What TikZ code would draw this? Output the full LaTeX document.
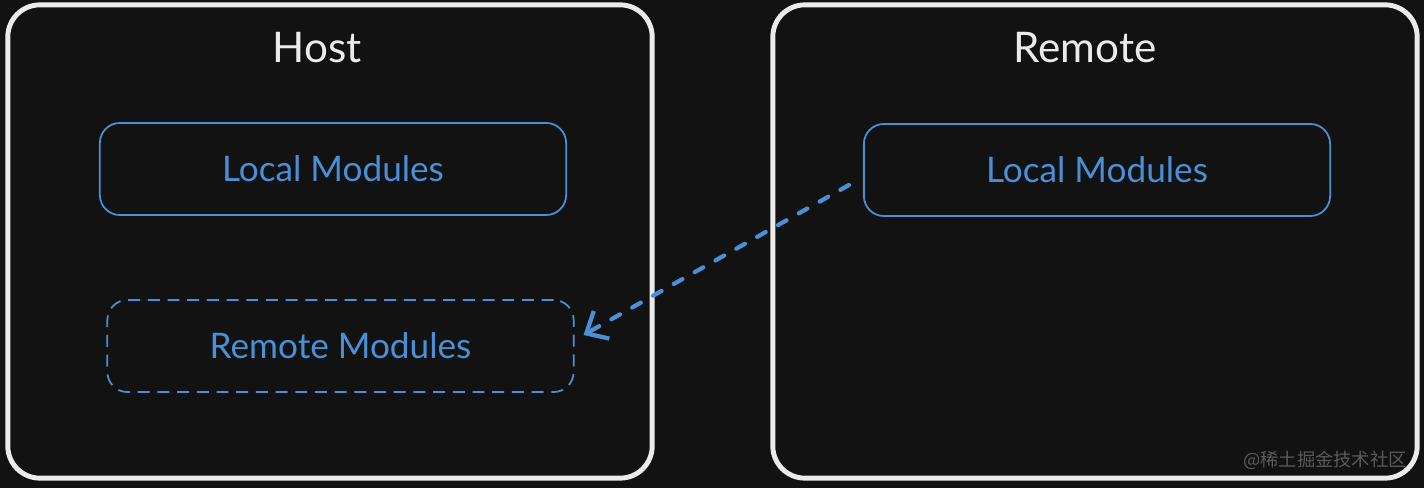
\documentclass[tikz,border=0pt]{standalone}
\usepackage{fontspec}
\setmainfont{Lato}
\newfontfamily\cjk{Noto Sans CJK SC}
\usetikzlibrary{arrows.meta}
\definecolor{bgdark}{RGB}{18,18,18}
\definecolor{edgewhite}{RGB}{235,235,235}
\definecolor{modblue}{RGB}{74,144,217}
\definecolor{markgray}{RGB}{90,90,90}
\begin{document}
\begin{tikzpicture}[x=0.01cm, y=-0.01cm,
		sidebox/.style={draw=edgewhite, line width=1.4pt, rounded corners=0.32cm, minimum width=6.44cm, minimum height=4.73cm},
		sidetitle/.style={text=edgewhite, font=\fontsize{12}{14}\selectfont},
		modbox/.style={draw=modblue, line width=0.5pt, rounded corners=0.2cm, minimum width=4.66cm, minimum height=0.92cm, text=modblue, font=\fontsize{10}{12}\selectfont},
		linkarrow/.style={draw=modblue, line width=1.2pt, dash pattern=on 2.8pt off 4pt, line cap=round, -{Straight Barb[length=5pt, width=9pt, line width=1.2pt]}}]
			\fill[bgdark] (0,0) rectangle (1424,488);
			% two machines
			\node[sidebox] (host) at (330, 241.5) {};
			\node[sidebox] (remote) at (1095, 241.5) {};
			\node[sidetitle] (hosttitle) at (317, 48) {Host};
			\node[sidetitle] (remotetitle) at (1085, 48) {Remote};
			% modules
			\node[modbox] (hostlocal) at (333, 169) {Local Modules};
			\node[modbox, dash pattern=on 3.4pt off 2.2pt] (remmods) at (340.5, 346) {Remote Modules};
			\node[modbox] (remlocal) at (1097, 170) {Local Modules};
			\draw[linkarrow] ([shift={(-14,15)}]remlocal.west) -- ([shift={(9,-11)}]remmods.east);
			\node[text=markgray, font=\cjk\fontsize{5.2}{6}\selectfont] (mark) at (1325, 460) {@稀土掘金技术社区};
		\end{tikzpicture}
\end{document}
